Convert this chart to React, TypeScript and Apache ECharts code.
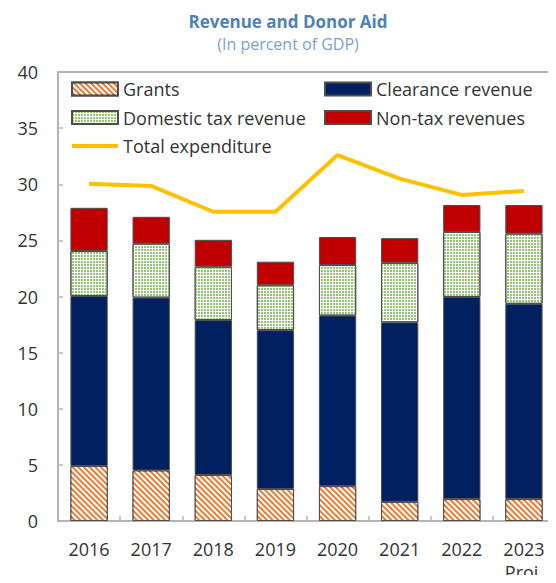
import React, { useEffect, useRef } from 'react';
import * as echarts from 'echarts';

const categories = ['2016', '2017', '2018', '2019', '2020', '2021', '2022', '2023'];
const xTickLabels = ['2016', '2017', '2018', '2019', '2020', '2021', '2022', '2023\nProj.'];
const grants = [4.9, 4.5, 4.1, 2.85, 3.1, 1.7, 1.95, 1.95];
const clearanceRevenue = [15.15, 15.4, 13.8, 14.15, 15.2, 16.0, 18.0, 17.4];
const domesticTaxRevenue = [4.0, 4.8, 4.75, 4.0, 4.5, 5.3, 5.8, 6.25];
const nonTaxRevenues = [3.85, 2.4, 2.4, 2.1, 2.5, 2.2, 2.4, 2.55];
const totalExpenditure = [30.05, 29.85, 27.55, 27.55, 32.6, 30.5, 29.05, 29.4];
const yMin = 0;
const yMax = 40;
const yInterval = 5;

const FONT = '"Open Sans", Lato, sans-serif';
const AXIS_GRAY = '#B4B4B4';
const TEXT = '#333333';
const BORDER = '#4D4D4D';
const LINE_ICON = 'path://M0,0 L50,0 L50,4.5 L0,4.5 Z';

export default function App() {
  const ref = useRef<HTMLDivElement>(null);
  useEffect(() => {
    if (!ref.current) return;
    const chart = echarts.init(ref.current, undefined, { renderer: 'svg' });
    const labelMap: Record<string, string> = {};
    categories.forEach((c, i) => (labelMap[c] = xTickLabels[i]));
    const legendText = { fontFamily: FONT, fontSize: 18, color: TEXT, lineHeight: 18 };
    chart.setOption({
      animation: false,
      textStyle: { fontFamily: FONT },
      title: {
        text: 'Revenue and Donor Aid',
        subtext: '(In percent of GDP)',
        left: 283,
        textAlign: 'center',
        top: 8,
        itemGap: 6,
        textStyle: { fontFamily: FONT, fontSize: 17, fontWeight: 'bold', color: '#4F81B5' },
        subtextStyle: { fontFamily: FONT, fontSize: 16, color: '#7AA2CE' },
      },
      legend: [
        {
          orient: 'vertical',
          left: 66,
          top: 75,
          icon: 'rect',
          itemWidth: 46,
          itemHeight: 13,
          itemGap: 10.5,
          data: ['Grants', 'Domestic tax revenue', { name: 'Total expenditure', icon: LINE_ICON }],
          textStyle: legendText,
        },
        {
          orient: 'vertical',
          left: 319,
          top: 75,
          icon: 'rect',
          itemWidth: 46,
          itemHeight: 13,
          itemGap: 10.5,
          data: ['Clearance revenue', 'Non-tax revenues'],
          textStyle: legendText,
        },
      ],
      grid: { left: 58, right: 1, top: 72, bottom: 62, containLabel: false },
      xAxis: [
        {
          type: 'category',
          data: categories,
          axisLine: { show: true, lineStyle: { color: AXIS_GRAY, width: 2 } },
          axisTick: { show: true, inside: true, length: 5, lineStyle: { color: AXIS_GRAY, width: 1.5 } },
          axisLabel: {
            fontFamily: FONT,
            fontSize: 18,
            color: TEXT,
            margin: 16,
            lineHeight: 23,
            formatter: (v: string) => labelMap[v] ?? v,
          },
        },
        {
          type: 'category',
          position: 'top',
          data: categories,
          axisLine: { show: true, lineStyle: { color: AXIS_GRAY, width: 2 } },
          axisTick: { show: false },
          axisLabel: { show: false },
        },
      ],
      yAxis: {
        type: 'value',
        min: yMin,
        max: yMax,
        interval: yInterval,
        splitLine: { show: false },
        axisLine: { show: true, lineStyle: { color: AXIS_GRAY, width: 2 } },
        axisTick: { show: true, inside: true, length: 5, lineStyle: { color: AXIS_GRAY, width: 1.5 } },
        axisLabel: { fontFamily: FONT, fontSize: 18, color: TEXT, margin: 20 },
      },
      series: [
        {
          name: 'Grants',
          type: 'bar',
          stack: 'rev',
          barWidth: '60%',
          data: grants,
          itemStyle: {
            color: '#EE7B30',
            borderColor: BORDER,
            borderWidth: 1,
            decal: {
              symbol: 'rect',
              symbolSize: 1,
              color: '#FFFFFF',
              dashArrayX: [1, 0],
              dashArrayY: [1.6, 1.6],
              rotation: Math.PI / 4,
            },
          },
        },
        {
          name: 'Clearance revenue',
          type: 'bar',
          stack: 'rev',
          data: clearanceRevenue,
          itemStyle: { color: '#002060', borderColor: BORDER, borderWidth: 1 },
        },
        {
          name: 'Domestic tax revenue',
          type: 'bar',
          stack: 'rev',
          data: domesticTaxRevenue,
          itemStyle: {
            color: '#FFFFFF',
            borderColor: BORDER,
            borderWidth: 1,
            decal: {
              symbol: 'rect',
              symbolSize: 1,
              color: '#93C474',
              dashArrayX: [2, 1],
              dashArrayY: [2, 1],
              rotation: 0,
            },
          },
        },
        {
          name: 'Non-tax revenues',
          type: 'bar',
          stack: 'rev',
          data: nonTaxRevenues,
          itemStyle: { color: '#C00000', borderColor: BORDER, borderWidth: 1 },
        },
        {
          name: 'Total expenditure',
          type: 'line',
          data: totalExpenditure,
          symbol: 'none',
          lineStyle: { color: '#FFC000', width: 4 },
          itemStyle: { color: '#FFC000' },
          z: 5,
        },
      ],
    });
    return () => chart.dispose();
  }, []);
  return <div ref={ref} style={{ width: 556, height: 583, margin: -8 }} />;
}
